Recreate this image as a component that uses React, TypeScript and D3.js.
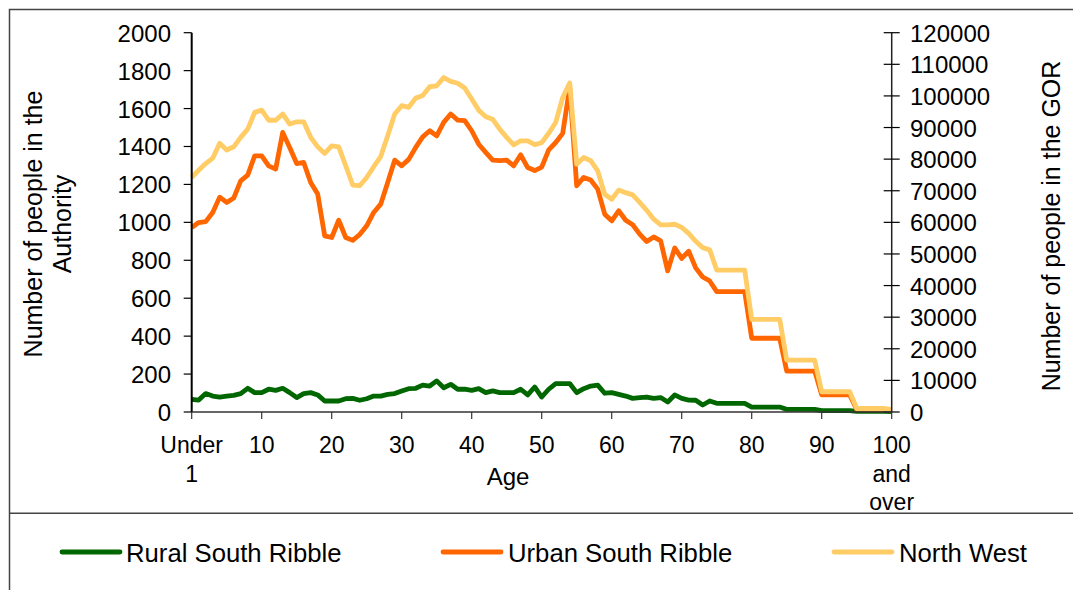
import React from "react";
import * as d3 from "d3";

const categories: string[] = ["Under 1", ...d3.range(1, 100).map(String), "100 and over"];

const rural: number[] = [
  67, 63, 97, 84, 79, 84, 88, 97, 125, 102,
  102, 120, 114, 125, 102, 76, 97, 102, 90, 58,
  58, 58, 70, 72, 62, 70, 84, 84, 93, 97,
  111, 123, 125, 142, 137, 164, 128, 146, 120, 120,
  114, 123, 102, 111, 102, 102, 102, 120, 90, 132,
  79, 120, 150, 150, 150, 102, 123, 137, 142, 99,
  102, 93, 84, 72, 76, 79, 72, 76, 53, 90,
  72, 63, 62, 37, 58, 46, 46, 46, 46, 46,
  26, 26, 26, 26, 26, 14, 14, 14, 14, 14,
  7, 7, 7, 7, 7, 3, 3, 3, 3, 3,
  2,
];

const urban: number[] = [
  973, 999, 1004, 1052, 1133, 1105, 1128, 1219, 1249, 1351,
  1351, 1298, 1281, 1474, 1395, 1310, 1316, 1210, 1149, 929,
  920, 1011, 920, 905, 936, 982, 1052, 1096, 1210, 1328,
  1298, 1332, 1395, 1451, 1483, 1456, 1527, 1571, 1539, 1536,
  1483, 1412, 1369, 1328, 1325, 1328, 1298, 1356, 1289, 1273,
  1291, 1382, 1421, 1469, 1712, 1193, 1237, 1223, 1175, 1043,
  1008, 1061, 1011, 987, 938, 899, 923, 902, 744, 865,
  810, 848, 760, 712, 691, 635, 635, 635, 635, 635,
  389, 389, 389, 389, 389, 216, 216, 216, 216, 216,
  90, 90, 90, 90, 90, 14, 14, 14, 14, 14,
  6,
];

const northWest: number[] = [
  74200, 76500, 78600, 80300, 85000, 82900, 83900, 86900, 89500, 94800,
  95500, 92300, 92300, 94300, 91100, 91800, 91800, 86900, 83900, 81800,
  84200, 83900, 77900, 71800, 71600, 74200, 77600, 80800, 87400, 94300,
  96900, 96400, 99300, 100100, 102900, 103200, 105800, 104600, 104000, 102500,
  99000, 95500, 93400, 92600, 89500, 86900, 84500, 85800, 85800, 84600,
  85200, 88200, 91600, 99500, 104100, 78400, 80500, 79500, 76300, 68900,
  67300, 70200, 69400, 68700, 66300, 63800, 61000, 59200, 59200, 59400,
  58400, 56500, 54000, 52000, 51300, 44900, 44900, 44900, 44900, 44900,
  29300, 29300, 29300, 29300, 29300, 16400, 16400, 16400, 16400, 16400,
  6400, 6400, 6400, 6400, 6400, 1100, 1100, 1100, 1100, 1100,
  800,
];

const leftTicks: number[] = d3.range(0, 2001, 200);
const rightTicks: number[] = d3.range(0, 120001, 10000);
const xTickIndices: number[] = d3.range(0, 101, 10);
const xTickLabels: string[][] = [
  ["Under", "1"], ["10"], ["20"], ["30"], ["40"], ["50"], ["60"], ["70"], ["80"], ["90"], ["100", "and", "over"],
];
const seriesNames: string[] = ["Rural South Ribble", "Urban South Ribble", "North West"];
const seriesColors: string[] = ["#006600", "#FF6600", "#FFCC66"];

const FONT = "'Liberation Sans', Arial, sans-serif";

export default function App() {
  const W = 1073;
  const H = 590;
  const x0 = 191.7;
  const x1 = 891.7;
  const yTop = 32.7;
  const yBot = 412;

  const x = d3.scalePoint<string>().domain(categories).range([x0, x1]);
  const yL = d3.scaleLinear().domain([0, 2000]).range([yBot, yTop]);
  const yR = d3.scaleLinear().domain([0, 120000]).range([yBot, yTop]);

  const lineL = d3
    .line<number>()
    .x((_, i) => x(categories[i]) as number)
    .y((d) => yL(d));
  const lineR = d3
    .line<number>()
    .x((_, i) => x(categories[i]) as number)
    .y((d) => yR(d));

  const legendItems = [
    { lx: 62, tx: 126 },
    { lx: 443, tx: 508 },
    { lx: 834, tx: 899 },
  ];

  return (
    <svg
      width={W}
      height={H}
      style={{ position: "absolute", left: 0, top: 0, background: "#fff" }}
      fontFamily={FONT}
    >
      <rect x={0} y={0} width={W} height={H} fill="#fff" />
      {/* outer frame */}
      <rect x={9.5} y={9.5} width={W + 20} height={H + 20} fill="none" stroke="#444" strokeWidth={1.5} />
      <line x1={9} x2={W} y1={513.3} y2={513.3} stroke="#444" strokeWidth={1.5} />

      {/* series lines */}
      <path d={lineL(rural) || ""} fill="none" stroke={seriesColors[0]} strokeWidth={4.8} strokeLinejoin="round" />
      <path d={lineL(urban) || ""} fill="none" stroke={seriesColors[1]} strokeWidth={4.8} strokeLinejoin="round" />
      <path d={lineR(northWest) || ""} fill="none" stroke={seriesColors[2]} strokeWidth={4.8} strokeLinejoin="round" />

      {/* left axis */}
      <line x1={x0} x2={x0} y1={yTop} y2={yBot} stroke="#000" strokeWidth={2} />
      {leftTicks.map((t) => (
        <g key={"l" + t}>
          <line x1={x0 - 8} x2={x0} y1={yL(t)} y2={yL(t)} stroke="#000" strokeWidth={1.2} />
          <text x={171} y={yL(t) + 9} textAnchor="end" fontSize={24} fill="#000">
            {t}
          </text>
        </g>
      ))}

      {/* right axis */}
      <line x1={x1} x2={x1} y1={yTop} y2={yBot} stroke="#222" strokeWidth={1.5} />
      {rightTicks.map((t) => (
        <g key={"r" + t}>
          <line x1={x1 - 8} x2={x1 + 8} y1={yR(t)} y2={yR(t)} stroke="#000" strokeWidth={1.2} />
          <text x={910} y={yR(t) + 9} textAnchor="start" fontSize={24} fill="#000">
            {t}
          </text>
        </g>
      ))}

      {/* bottom axis */}
      <line x1={x0} x2={x1} y1={yBot} y2={yBot} stroke="#333" strokeWidth={1.3} />
      {xTickIndices.map((idx, k) => {
        const px = x(categories[idx]) as number;
        return (
          <g key={"x" + idx}>
            <line x1={px} x2={px} y1={yBot} y2={yBot + 7} stroke="#333" strokeWidth={1.2} />
            {xTickLabels[k].map((s, j) => (
              <text key={j} x={px} y={453 + j * 28.7} textAnchor="middle" fontSize={23} fill="#000">
                {s}
              </text>
            ))}
          </g>
        );
      })}

      {/* axis titles */}
      <text x={508} y={485} textAnchor="middle" fontSize={24} fill="#000">
        Age
      </text>
      <text transform="translate(42,224) rotate(-90)" textAnchor="middle" fontSize={25} fill="#000">
        Number of people in the
      </text>
      <text transform="translate(71,224) rotate(-90)" textAnchor="middle" fontSize={25} fill="#000">
        Authority
      </text>
      <text transform="translate(1060,226) rotate(-90)" textAnchor="middle" fontSize={25} fill="#000">
        Number of people in the GOR
      </text>

      {/* legend */}
      {seriesNames.map((name, i) => (
        <g key={name}>
          <line
            x1={legendItems[i].lx}
            x2={legendItems[i].lx + 58}
            y1={552}
            y2={552}
            stroke={seriesColors[i]}
            strokeWidth={4.8}
            strokeLinecap="round"
          />
          <text x={legendItems[i].tx} y={561.5} fontSize={25.7} fill="#000">
            {name}
          </text>
        </g>
      ))}
    </svg>
  );
}
